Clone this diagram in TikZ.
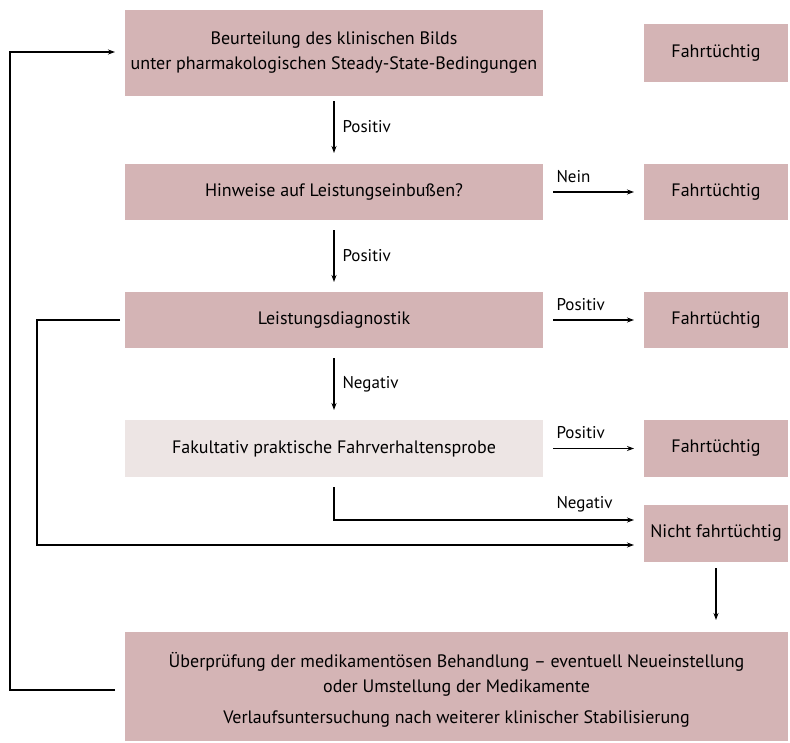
\documentclass[tikz,border=0pt]{standalone}
\usepackage{fontspec}
\setmainfont{PT Sans}
\usetikzlibrary{arrows.meta}
\definecolor{boxpink}{RGB}{212,180,181}
\definecolor{boxlight}{RGB}{237,229,228}
\begin{document}
\begin{tikzpicture}[x=1pt,y=-1pt,
  box/.style={rectangle, fill=boxpink, inner sep=0pt, outer sep=0pt, align=center, font=\fontsize{18}{25}\selectfont},
  lightbox/.style={box, fill=boxlight},
  arr/.style={line width=1.1pt, -{Stealth[length=7pt,width=5pt]}},
  lbl/.style={font=\fontsize{17}{20}\selectfont, inner sep=0pt}
]
\useasboundingbox (0,0) rectangle (790,742);
% main column
\node[box, minimum width=418pt, minimum height=86pt] (b1) at (334,53) {Beurteilung des klinischen Bilds\\unter pharmakologischen Steady-State-Bedingungen};
\node[box, minimum width=418pt, minimum height=56pt] (b2) at (334,192) {Hinweise auf Leistungseinbußen?};
\node[box, minimum width=418pt, minimum height=56pt] (b3) at (334,320) {Leistungsdiagnostik};
\node[lightbox, minimum width=418pt, minimum height=57pt] (b4) at (334,448.5) {Fakultativ praktische Fahrverhaltensprobe};
% right column
\node[box, minimum width=144pt, minimum height=58pt] (f1) at (716,53) {Fahrtüchtig};
\node[box, minimum width=144pt, minimum height=56pt] (f2) at (716,192) {Fahrtüchtig};
\node[box, minimum width=144pt, minimum height=56pt] (f3) at (716,320) {Fahrtüchtig};
\node[box, minimum width=144pt, minimum height=57pt] (f4) at (716,448.5) {Fahrtüchtig};
\node[box, minimum width=144pt, minimum height=57pt] (nf) at (716,533.5) {Nicht fahrtüchtig};
% bottom
\node[box, minimum width=663pt, minimum height=109pt] (b5) at (456.5,686.5) {\\[-4pt]Überprüfung der medikamentösen Behandlung – eventuell Neueinstellung\\oder Umstellung der Medikamente\\[6pt]Verlaufsuntersuchung nach weiterer klinischer Stabilisierung};
% coordinates for loops
\coordinate (l3) at (37,320);
\coordinate (l1) at (10,690);
% vertical arrows
\draw[arr] ([yshift=-5pt]b1.south) -- node[lbl, anchor=west, xshift=8pt] {Positiv} ([yshift=11pt]b2.north);
\draw[arr] ([yshift=-10pt]b2.south) -- node[lbl, anchor=west, xshift=8pt] {Positiv} ([yshift=10pt]b3.north);
\draw[arr] ([yshift=-10pt]b3.south) -- node[lbl, anchor=west, xshift=8pt] {Negativ} ([yshift=10pt]b4.north);
% horizontal arrows
\draw[arr] ([xshift=10pt]b2.east) -- node[lbl, anchor=south west, pos=0, xshift=3pt, yshift=9pt] {Nein} ([xshift=-10pt]f2.west);
\draw[arr] ([xshift=10pt]b3.east) -- node[lbl, anchor=south west, pos=0, xshift=3pt, yshift=9pt] {Positiv} ([xshift=-10pt]f3.west);
\draw[arr] ([xshift=10pt]b4.east) -- node[lbl, anchor=south west, pos=0, xshift=3pt, yshift=9pt] {Positiv} ([xshift=-10pt]f4.west);
\draw[arr] ([yshift=-10pt]b4.south) |- node[lbl, anchor=south west, pos=0.5, xshift=222pt, yshift=7pt] {Negativ} ([xshift=-10pt,yshift=13.5pt]nf.west);
\draw[arr] ([xshift=-5pt]b3.west) -- (l3) |- ([xshift=-10pt,yshift=-11.5pt]nf.west);
\draw[arr] (nf.south) ++(0,6) coordinate (nfs) (nfs) -- ([yshift=12pt]nfs |- b5.north);
\draw[arr] ([xshift=-10pt,yshift=-3.5pt]b5.west) -- (l1) |- ([xshift=-10pt,yshift=1pt]b1.west);
\end{tikzpicture}
\end{document}
